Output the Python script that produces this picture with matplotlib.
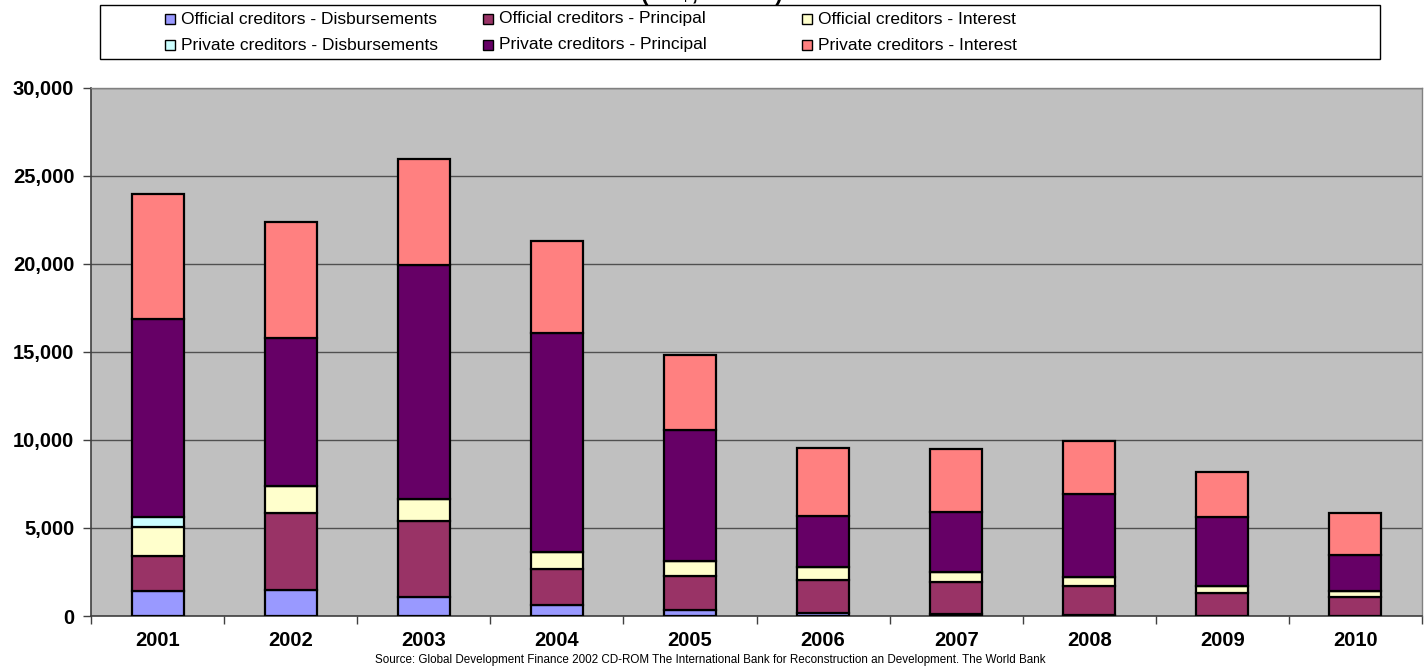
import matplotlib
matplotlib.use("Agg")
import matplotlib.pyplot as plt
from matplotlib.patches import Rectangle
from matplotlib.ticker import FuncFormatter, MultipleLocator
import numpy as np

plt.rcParams["font.family"] = ["Liberation Sans", "DejaVu Sans"]

years = ["2001", "2002", "2003", "2004", "2005", "2006", "2007", "2008", "2009", "2010"]

# Debt service flows, US$ million
official_disbursements = [1400, 1480, 1100, 640, 360, 190, 110, 50, 20, 0]
official_principal = [2030, 4370, 4300, 2050, 1910, 1870, 1820, 1670, 1290, 1100]
official_interest = [1640, 1530, 1220, 930, 850, 700, 590, 470, 370, 300]
private_disbursements = [550, 0, 0, 0, 0, 0, 0, 0, 0, 0]
private_principal = [11240, 8430, 13340, 12440, 7450, 2940, 3410, 4720, 3950, 2050]
private_interest = [7100, 6560, 6020, 5260, 4260, 3850, 3560, 3030, 2570, 2420]

series_labels = [
    "Official creditors - Disbursements",
    "Official creditors - Principal",
    "Official creditors - Interest",
    "Private creditors - Disbursements",
    "Private creditors - Principal",
    "Private creditors - Interest",
]
series_values = [
    official_disbursements,
    official_principal,
    official_interest,
    private_disbursements,
    private_principal,
    private_interest,
]
series_colors = ["#9999FF", "#993366", "#FFFFCC", "#CCFFFF", "#660066", "#FF8080"]

W, H = 1427, 671
fig = plt.figure(figsize=(W / 100, H / 100), dpi=100)
fig.patch.set_facecolor("white")

ax = fig.add_axes([91 / W, (H - 616) / H, (1422 - 91) / W, (616 - 88) / H])
ax.set_facecolor("#C0C0C0")

x = np.arange(len(years))
bottom = np.zeros(len(years))
for vals, col in zip(series_values, series_colors):
    v = np.array(vals, dtype=float)
    ax.bar(x, v, width=0.39, bottom=bottom, color=col, edgecolor="black",
           linewidth=1.6, zorder=3)
    bottom += v

ax.set_xlim(-0.5, len(years) - 0.5)
ax.set_ylim(0, 30000)
ax.yaxis.set_major_locator(MultipleLocator(5000))
ax.yaxis.set_major_formatter(FuncFormatter(lambda v, p: f"{int(v):,}"))
ax.grid(axis="y", color="#505050", linewidth=1.0, zorder=1)
ax.set_axisbelow(True)

ax.set_xticks(x)
ax.set_xticklabels(years)
ax.set_xticks(np.arange(len(years) + 1) - 0.5, minor=True)
ax.tick_params(axis="x", which="major", length=0, pad=11)
ax.tick_params(axis="x", which="minor", length=6, width=1, color="#404040", direction="out")
ax.tick_params(axis="y", length=6, width=1, color="#404040", direction="out", pad=6)
for lab in ax.get_xticklabels() + ax.get_yticklabels():
    lab.set_fontweight("bold")
    lab.set_fontsize(14.5)

for side in ["left", "bottom"]:
    ax.spines[side].set_color("#404040")
    ax.spines[side].set_linewidth(1.2)
for side in ["top", "right"]:
    ax.spines[side].set_color("#808080")
    ax.spines[side].set_linewidth(1.0)

# Legend box drawn in figure pixel coordinates
def fy(py):
    return (H - py) / H

fig.patches.append(Rectangle((100 / W, fy(59)), (1380 - 100) / W, (59 - 5) / H,
                             transform=fig.transFigure, facecolor="white",
                             edgecolor="black", linewidth=1.0, zorder=1))
col_x = [165, 483, 802]
row_y = [19, 45]
for i, (lab, col) in enumerate(zip(series_labels, series_colors)):
    r, c = divmod(i, 3)
    sx, sy = col_x[c], row_y[r]
    fig.patches.append(Rectangle((sx / W, fy(sy + 5)), 10 / W, 10 / H,
                                 transform=fig.transFigure, facecolor=col,
                                 edgecolor="black", linewidth=1.0, zorder=2))
    fig.text((sx + 16) / W, fy(sy), lab, fontsize=12.5, va="center", ha="left")

fig.text(712 / W, 1.0, "(US$, million)", fontsize=16, fontweight="bold",
         ha="center", va="baseline")

fig.text(710 / W, fy(660),
         "Source: Global Development Finance 2002 CD-ROM The International Bank for "
         "Reconstruction an Development. The World Bank",
         fontsize=8.4, ha="center", va="center")

fig.savefig("out.png", dpi=100)
